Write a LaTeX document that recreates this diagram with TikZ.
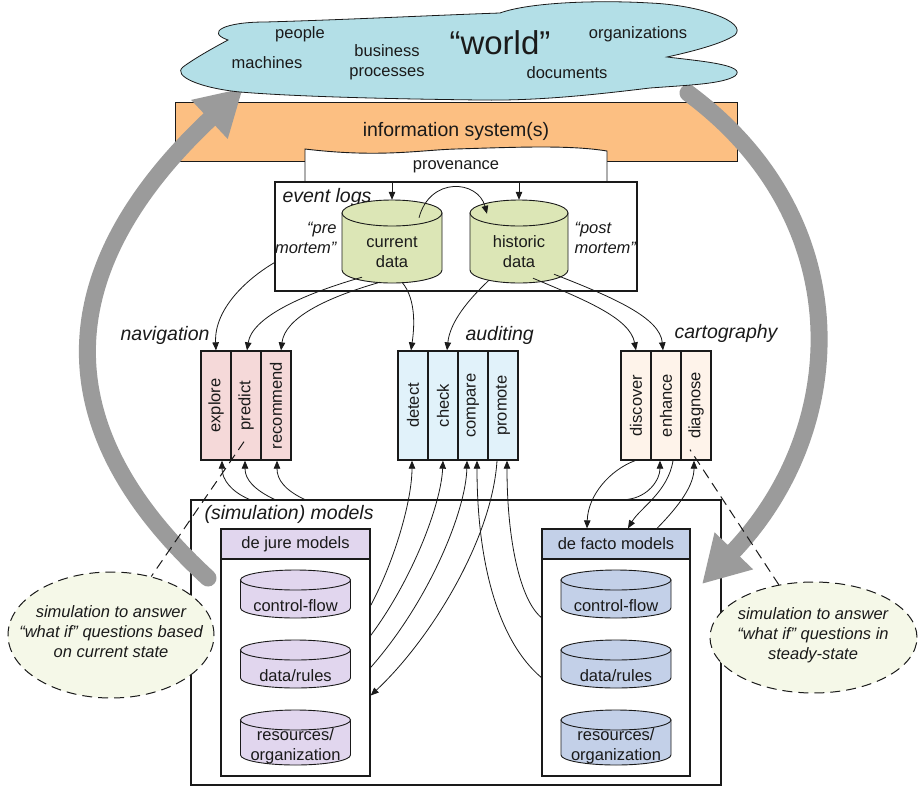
\documentclass[tikz,border=0pt]{standalone}
\usepackage{fontspec}
\setmainfont{Liberation Sans}
\usetikzlibrary{arrows.meta,calc,shapes.geometric}

\definecolor{cloudblue}{HTML}{B3DFE7}
\definecolor{isorange}{HTML}{FCBF82}
\definecolor{logsgreen}{HTML}{DCE6B6}
\definecolor{navpink}{HTML}{F5D9D9}
\definecolor{audblue}{HTML}{E1F2FA}
\definecolor{cartcream}{HTML}{FEF3EA}
\definecolor{jurelilac}{HTML}{E1D6EE}
\definecolor{factoblue}{HTML}{C3D0E8}
\definecolor{notecream}{HTML}{F5F8E8}
\definecolor{loopgray}{HTML}{9B9B9B}
\definecolor{ink}{HTML}{1A1A1A}

\newcommand\bodysize{\fontsize{16.5pt}{20pt}\selectfont}
\newcommand\headsize{\fontsize{19.5pt}{23pt}\selectfont}
\newcommand\worldsize{\fontsize{33pt}{36pt}\selectfont}

% database drum: #1 name, #2 centre x, #3 top rim y, #4 bottom rim y,
% #5 half width, #6 rim radius, #7 fill, #8 text y, #9 text
\newcommand\drum[9]{%
  \filldraw[drumline, fill=#7] (#2-#5,#3) -- (#2-#5,#4)
    .. controls (#2-#5,#4+0.5523*#6) and (#2-0.5523*#5,#4+#6) .. (#2,#4+#6)
    .. controls (#2+0.5523*#5,#4+#6) and (#2+#5,#4+0.5523*#6) .. (#2+#5,#4)
    -- (#2+#5,#3) -- cycle;
  \filldraw[drumline, fill=#7] (#2,#3) ellipse [x radius=#5pt, y radius=#6pt];
  \node[inner sep=0pt, minimum width={2*#5*1pt}, minimum height={(#4-#3+2*#6)*1pt}] (#1) at (#2,{(#3+#4)/2}) {};
  \node[align=center, font=\bodysize, text=ink] (#1-label) at (#2,#8) {#9};
}

\tikzset{
  boxline/.style={draw=ink, line width=1.3pt},
  col/.style={boxline, minimum width=30pt, minimum height=109pt, inner sep=0pt, font=\bodysize, text=ink},
  link/.style={draw=ink, line width=0.8pt},
  arr/.style={-{Triangle[length=8pt,width=6.5pt]}},
  drumline/.style={draw=ink, line width=0.9pt},
  cyclearrow/.style={draw=loopgray, line width=17pt, line cap=round, -{Triangle[length=46pt,width=50pt]}},
  note/.style={ellipse, draw=ink, line width=1pt, dash pattern=on 10pt off 6pt, fill=notecream, inner sep=0pt},
  notetext/.style={font=\bodysize\itshape, align=center, text=ink},
  guide/.style={draw=ink, line width=1pt, dash pattern=on 10pt off 6pt},
  heading/.style={font=\headsize\itshape, text=ink},
  plain/.style={font=\bodysize, text=ink},
}

\begin{document}
\begin{tikzpicture}[x=1pt, y=-1pt]
\useasboundingbox (0,0) rectangle (919,788);

% information system band
\node[draw=ink, line width=0.9pt, fill=isorange, minimum width=562pt, minimum height=59pt,
      font=\headsize, text=ink] (infosys) at (456,131.5) {information system(s)};

% provenance sheet
\filldraw[fill=white, draw=ink, line width=0.9pt] (305,183) -- (305,149)
  .. controls (380,158) and (420,150) .. (456,149)
  .. controls (520,147) and (570,145) .. (607,151) -- (607,183);
\node[plain] (prov) at (456,167) {provenance};

% event logs
\node[boxline, fill=white, minimum width=362pt, minimum height=109pt] (evlog) at (456,236.5) {};
\node[heading, anchor=west] (evlog-title) at (279,197) {event logs};
\drum{cur}{392}{213}{270}{50}{13}{logsgreen}{252}{current\\data}
\drum{hist}{519}{213}{270}{49}{13}{logsgreen}{252}{historic\\data}
\node[plain, font=\bodysize\itshape, align=right, anchor=east] (pre) at (340,238) {“pre\\mortem”};
\node[plain, font=\bodysize\itshape, align=left, anchor=west] (post) at (571,238) {“post\\mortem”};

% navigation
\node[heading, anchor=east] (nav-title) at (213,335) {navigation};
\node[col, fill=navpink] (explore)   at (216,405.5) {\rotatebox{90}{explore}};
\node[col, fill=navpink] (predict)   at (246,405.5) {\rotatebox{90}{predict}};
\node[col, fill=navpink] (recommend) at (276,405.5) {\rotatebox{90}{recommend}};

% auditing
\node[heading, anchor=west] (aud-title) at (462,335) {auditing};
\node[col, fill=audblue] (detect)  at (413,405.5) {\rotatebox{90}{detect}};
\node[col, fill=audblue] (check)   at (443,405.5) {\rotatebox{90}{check}};
\node[col, fill=audblue] (compare) at (473,405.5) {\rotatebox{90}{compare}};
\node[col, fill=audblue] (promote) at (503,405.5) {\rotatebox{90}{promote}};

% cartography
\node[heading, anchor=west] (cart-title) at (671,333) {cartography};
\node[col, fill=cartcream] (discover) at (636,405.5) {\rotatebox{90}{discover}};
\node[col, fill=cartcream] (enhance)  at (666,405.5) {\rotatebox{90}{enhance}};
\node[col, fill=cartcream] (diagnose) at (696,405.5) {\rotatebox{90}{diagnose}};

% models
\node[boxline, fill=white, minimum width=530pt, minimum height=285pt] (models) at (456,642.5) {};
\node[heading, anchor=west] (models-title) at (201,514) {(simulation) models};

\node[boxline, fill=white, minimum width=149pt, minimum height=217pt] (jbody) at (295.5,667.5) {};
\node[boxline, fill=jurelilac, minimum width=149pt, minimum height=30pt, font=\bodysize, text=ink] (jure) at (295.5,544) {de jure models};
\drum{jcf}{295.5}{580}{608}{55}{10}{jurelilac}{606}{control-flow}
\drum{jdr}{295.5}{650}{678}{55}{10}{jurelilac}{676}{data/rules}
\drum{jro}{295.5}{720}{755}{55}{10}{jurelilac}{746}{resources/\\organization}

\node[boxline, fill=white, minimum width=148pt, minimum height=217pt] (fbody) at (616,667.5) {};
\node[boxline, fill=factoblue, minimum width=148pt, minimum height=30pt, font=\bodysize, text=ink] (facto) at (616,544) {de facto models};
\drum{fcf}{616}{580}{608}{55}{10}{factoblue}{606}{control-flow}
\drum{fdr}{616}{650}{678}{55}{10}{factoblue}{676}{data/rules}
\drum{fro}{616}{720}{755}{55}{10}{factoblue}{746}{resources/\\organization}

% simulation notes
\node[note, minimum width=206pt, minimum height=126pt] (noteL) at (111,635) {};
\node[notetext] (noteL-text) at (111,632) {simulation to answer\\“what if” questions based\\on current state};
\node[note, minimum width=207pt, minimum height=111pt] (noteR) at (813.5,637.5) {};
\node[notetext] (noteR-text) at (813,635) {simulation to answer\\“what if” questions in\\steady-state};

% provenance feeds the logs
\draw[link,arr] (evlog.north -| cur.north) -- (cur.north);
\draw[link,arr] (evlog.north -| hist.north) -- (hist.north);
\draw[link,arr] ($(cur.north)+(27,18)$) .. controls (430,176) and (478,180) .. ($(hist.north)+(-32,14)$);

% logs to the three activity groups
\draw[link,arr] ($(evlog.south west)+(0,-29)$) .. controls (245,280) and (214,310) .. (explore.north);
\draw[link,arr] ($(cur.south)+(-30,-6)$) .. controls (300,295) and (252,318) .. ($(predict.north)+(1,0)$);
\draw[link,arr] ($(cur.south)+(-12,-1)$) .. controls (325,298) and (285,318) .. ($(recommend.north)+(5,0)$);
\draw[link,arr] ($(cur.south)+(10,-1)$) .. controls (417,300) and (414,330) .. ($(detect.north)+(-2,0)$);
\draw[link,arr] ($(hist.south)+(-30,-3)$) .. controls (468,300) and (450,322) .. ($(check.north)+(4,0)$);
\draw[link,arr] ($(hist.south)+(14,-5)$) .. controls (585,300) and (630,318) .. (discover.north);
\draw[link,arr] ($(hist.south)+(35,-9)$) .. controls (615,298) and (660,318) .. ($(enhance.north)+(-3,0)$);

% models to navigation
\draw[link,arr] ($(models.north west)+(59,0)$) .. controls (232,492) and (222,480) .. ($(explore.south)+(6,0)$);
\draw[link,arr] ($(models.north west)+(84,0)$) .. controls (255,490) and (245,480) .. ($(predict.south)+(-1,0)$);
\draw[link,arr] ($(models.north west)+(114,0)$) .. controls (285,490) and (277,480) .. ($(recommend.south)+(1,0)$);

% models and auditing
\draw[link,arr] ($(jbody.east)+(0,-62)$) .. controls (395,560) and (412,500) .. ($(detect.south)+(-1,0)$);
\draw[link,arr] ($(jbody.east)+(0,-32)$) .. controls (412,580) and (441,505) .. (check.south);
\draw[link,arr] (jbody.east) .. controls (430,600) and (466,510) .. ($(compare.south)+(-6,0)$);
\draw[link,arr] ($(promote.south)+(-6,0)$) .. controls (492,540) and (430,640) .. ($(jbody.east)+(0,28)$);
\draw[link,arr] ($(fbody.west)+(0,10)$) .. controls (497,640) and (477,560) .. ($(compare.south)+(4,0)$);
\draw[link,arr] ($(fbody.west)+(0,-50)$) .. controls (520,600) and (507,540) .. ($(promote.south)+(4,0)$);

% models and cartography
\draw[link,arr] ($(discover.south)+(-1,0)$) .. controls (610,470) and (588,495) .. ($(facto.north)+(-29,0)$);
\draw[link,arr] ($(models.north east)+(-94,0)$) .. controls (648,497) and (660,480) .. ($(enhance.south)+(-6,0)$);
\draw[link,arr] ($(enhance.south)+(7,0)$) .. controls (668,492) and (640,508) .. ($(facto.north)+(12,0)$);
\draw[link,arr] ($(facto.north)+(41,0)$) .. controls (680,505) and (694,485) .. ($(diagnose.south)+(-2,0)$);

% the two big loops between models and the world
\coordinate (loopL-start) at (208,578);
\coordinate (loopL-end) at (243,88);
\draw[cyclearrow] (loopL-start) .. controls (25,410) and (70,250) .. (loopL-end);
\coordinate (loopR-start) at (688,93);
\coordinate (loopR-end) at (702,584);
\draw[cyclearrow] (loopR-start) .. controls (860,220) and (850,430) .. (loopR-end);

% the world
\filldraw[fill=cloudblue, draw=ink, line width=0.8pt] (228,40)
  .. controls (205,32) and (225,22) .. (265,22)
  .. controls (340,20) and (440,15) .. (500,13)
  .. controls (530,2) and (600,0) .. (650,3)
  .. controls (700,5) and (748,22) .. (735,35)
  .. controls (722,44) and (690,52) .. (667,57)
  .. controls (700,61) and (748,65) .. (735,76)
  .. controls (722,84) and (690,85) .. (650,88)
  .. controls (600,94) and (540,101) .. (480,100)
  .. controls (400,99) and (300,97) .. (240,92)
  .. controls (200,88) and (172,76) .. (183,67)
  .. controls (195,58) and (215,47) .. (228,40) -- cycle;
\node[plain] (people) at (300,34) {people};
\node[plain] (machines) at (267,63) {machines};
\node[plain, align=center] (processes) at (387,62) {business\\processes};
\node[font=\worldsize, text=ink] (world) at (500,43) {“world”};
\node[plain] (organizations) at (638,34) {organizations};
\node[plain] (documents) at (567,73) {documents};

% dashed guides from the notes to the activities
\draw[guide] ($(predict.south)+(-2,-19)$) -- (noteL);
\draw[guide, dash phase=8pt] ($(diagnose.south)+(-6,-11)$) -- (noteR);
\end{tikzpicture}
\end{document}
